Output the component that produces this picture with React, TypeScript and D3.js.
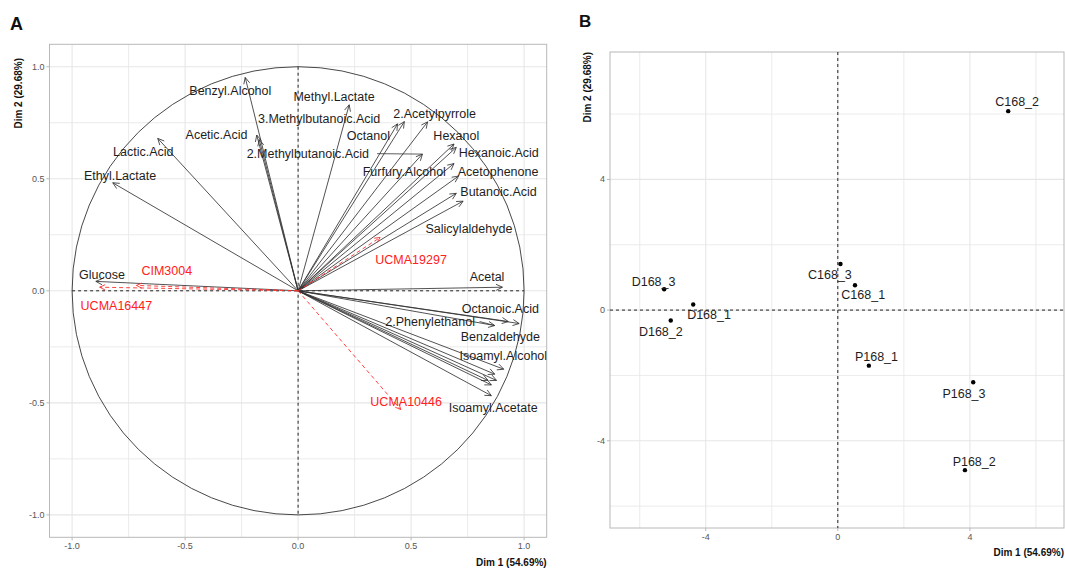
import * as d3 from "d3";

// ---- panel A: variables factor map ----
const varNames = [
  "Ethyl.Lactate", "Lactic.Acid", "Benzyl.Alcohol", "Acetic.Acid", "3.Methylbutanoic.Acid",
  "Methyl.Lactate", "Octanol", "2.Acetylpyrrole", "", "2.Methylbutanoic.Acid",
  "Hexanol", "Hexanoic.Acid", "Furfury.Alcohol", "Acetophenone", "Butanoic.Acid",
  "Salicylaldehyde", "Glucose", "Acetal", "Octanoic.Acid", "Benzaldehyde",
  "2.Phenylethanol", "Isoamyl.Alcohol", "", "", "", "", "Isoamyl.Acetate",
];
const varDim1 = [
  -0.82, -0.621, -0.234, -0.183, -0.172,
  0.226, 0.44, 0.47, 0.573, 0.55,
  0.69, 0.70, 0.69, 0.71, 0.70,
  0.73, -0.895, 0.904, 0.93, 0.978,
  0.87, 0.91, 0.87, 0.878, 0.84, 0.855, 0.855,
];
const varDim2 = [
  0.482, 0.68, 0.952, 0.695, 0.675,
  0.83, 0.745, 0.755, 0.754, 0.61,
  0.655, 0.64, 0.568, 0.512, 0.435,
  0.40, 0.042, 0.016, -0.137, -0.146,
  -0.155, -0.35, -0.372, -0.40, -0.40, -0.42, -0.468,
];
// label anchors (repelled positions, in dimension units)
const varLabX = [
  -0.788, -0.685, -0.30, -0.361, 0.093,
  0.159, 0.311, 0.604, NaN, 0.043,
  0.70, 0.888, 0.47, 0.885, 0.887,
  0.756, -0.868, 0.836, 0.895, 0.895,
  0.584, 0.908, NaN, NaN, NaN, NaN, 0.863,
];
const varLabY = [
  0.513, 0.621, 0.893, 0.698, 0.769,
  0.865, 0.693, 0.789, NaN, 0.612,
  0.693, 0.615, 0.531, 0.531, 0.442,
  0.278, 0.071, 0.0625, -0.077, -0.204,
  -0.137, -0.288, NaN, NaN, NaN, NaN, -0.523,
];
const segmentLabels = ["2.Methylbutanoic.Acid", "2.Phenylethanol"];

const supNames = ["UCMA19297", "UCMA10446", "CIM3004", "UCMA16447"];
const supDim1 = [0.363, 0.454, -0.715, -0.878];
const supDim2 = [0.238, -0.53, 0.024, 0.016];
const supLabX = [0.50, 0.478, -0.581, -0.804];
const supLabY = [0.14, -0.493, 0.092, -0.067];

const ticksA = [-1.0, -0.5, 0.0, 0.5, 1.0];
const minorA = [-0.75, -0.25, 0.25, 0.75];

// ---- panel B: individuals factor map ----
const indNames = ["C168_2", "C168_3", "C168_1", "D168_3", "D168_1", "D168_2", "P168_1", "P168_3", "P168_2"];
const indDim1 = [5.16, 0.08, 0.52, -5.26, -4.38, -5.06, 0.94, 4.10, 3.85];
const indDim2 = [6.09, 1.41, 0.76, 0.64, 0.17, -0.32, -1.70, -2.21, -4.90];
const indLabX = [5.43, -0.24, 0.77, -5.58, -3.90, -5.36, 1.17, 3.82, 4.13];
const indLabY = [6.39, 1.09, 0.47, 0.89, -0.13, -0.64, -1.43, -2.55, -4.64];

const ticksB = [-4, 0, 4];
const minorB = [-6, -2, 2, 6];

const FONT = "'Liberation Sans', Arial, sans-serif";
const GRID = "#e6e6e6";
const BORDER = "#b8b8b8";
const TICKTXT = "#555";

function arrowHead(x1: number, y1: number, x2: number, y2: number, len: number) {
  const a = Math.atan2(y2 - y1, x2 - x1);
  const s = Math.PI / 7;
  const p1 = [x2 - len * Math.cos(a - s), y2 - len * Math.sin(a - s)];
  const p2 = [x2 - len * Math.cos(a + s), y2 - len * Math.sin(a + s)];
  return `M${p1[0]},${p1[1]}L${x2},${y2}L${p2[0]},${p2[1]}`;
}

function PanelA() {
  const x = d3.scaleLinear().domain([-1.1, 1.1]).range([49.5, 546.7]);
  const y = d3.scaleLinear().domain([-1.1, 1.1]).range([537.3, 44.3]);
  const [x0, x1] = x.range();
  const [y1, y0] = y.range();
  const cx = x(0), cy = y(0);
  const r = x(1) - x(0);
  const ry = y(0) - y(1);
  return (
    <g>
      <defs>
        <clipPath id="clipA">
          <rect x={x0} y={y0} width={x1 - x0} height={y1 - y0} />
        </clipPath>
      </defs>
      {minorA.map((t) => (
        <g key={"m" + t}>
          <line x1={x(t)} x2={x(t)} y1={y0} y2={y1} stroke={GRID} strokeWidth={0.8} />
          <line x1={x0} x2={x1} y1={y(t)} y2={y(t)} stroke={GRID} strokeWidth={0.8} />
        </g>
      ))}
      {ticksA.map((t) => (
        <g key={"g" + t}>
          <line x1={x(t)} x2={x(t)} y1={y0} y2={y1} stroke={GRID} strokeWidth={1.1} />
          <line x1={x0} x2={x1} y1={y(t)} y2={y(t)} stroke={GRID} strokeWidth={1.1} />
          <line x1={x(t)} x2={x(t)} y1={y1} y2={y1 + 3} stroke={BORDER} />
          <line x1={x0 - 3} x2={x0} y1={y(t)} y2={y(t)} stroke={BORDER} />
          <text x={x(t)} y={y1 + 12} textAnchor="middle" fontSize={9} fill={TICKTXT} fontFamily={FONT}>
            {t.toFixed(1)}
          </text>
          <text x={x0 - 5} y={y(t) + 3} textAnchor="end" fontSize={9} fill={TICKTXT} fontFamily={FONT}>
            {t.toFixed(1)}
          </text>
        </g>
      ))}
      <rect x={x0} y={y0} width={x1 - x0} height={y1 - y0} fill="none" stroke={BORDER} strokeWidth={1} />
      <g clipPath="url(#clipA)">
        <ellipse cx={cx} cy={cy} rx={r} ry={ry} fill="none" stroke="#333" strokeWidth={0.9} />
        <line x1={x(-1)} x2={x(1)} y1={cy} y2={cy} stroke="#222" strokeWidth={1} strokeDasharray="3,3" />
        <line x1={cx} x2={cx} y1={y(1)} y2={y(-1)} stroke="#222" strokeWidth={1} strokeDasharray="3,3" />
        {varNames.map((n, i) => {
          const tx = x(varDim1[i]), ty = y(varDim2[i]);
          return (
            <g key={"v" + i}>
              <line x1={cx} y1={cy} x2={tx} y2={ty} stroke="#333" strokeWidth={0.85} />
              <path d={arrowHead(cx, cy, tx, ty, 7)} fill="none" stroke="#333" strokeWidth={0.85} />
            </g>
          );
        })}
        {supNames.map((n, i) => {
          const tx = x(supDim1[i]), ty = y(supDim2[i]);
          return (
            <g key={"s" + i}>
              <line x1={cx} y1={cy} x2={tx} y2={ty} stroke="#ff3030" strokeWidth={0.9} strokeDasharray="4,3" />
              <path d={arrowHead(cx, cy, tx, ty, 6)} fill="none" stroke="#ff3030" strokeWidth={0.9} />
            </g>
          );
        })}
        {varNames.map((n, i) => {
          if (!n || isNaN(varLabX[i])) return null;
          const lx = x(varLabX[i]), ly = y(varLabY[i]);
          const w = n.length * 6.6;
          return (
            <g key={"l" + i}>
              {segmentLabels.includes(n) && (
                <line x1={lx + w / 2} y1={ly} x2={x(varDim1[i])} y2={y(varDim2[i])} stroke="#333" strokeWidth={0.8} />
              )}
              <text x={lx} y={ly} dy="0.36em" textAnchor="middle" fontSize={12.5} fill="#1e1e1e" fontFamily={FONT}>
                {n}
              </text>
            </g>
          );
        })}
        {supNames.map((n, i) => (
          <text key={"sl" + i} x={x(supLabX[i])} y={y(supLabY[i])} dy="0.36em" textAnchor="middle" fontSize={12.5} fill="#ff2020" fontFamily={FONT}>
            {n}
          </text>
        ))}
      </g>
      <text x={x1} y={566} textAnchor="end" fontSize={10} fontWeight="bold" fill="#111" fontFamily={FONT}>
        Dim 1 (54.69%)
      </text>
      <text transform={`translate(22,58) rotate(-90)`} textAnchor="end" fontSize={10} fontWeight="bold" fill="#111" fontFamily={FONT}>
        Dim 2 (29.68%)
      </text>
      <text x={10} y={30} fontSize={18} fontWeight="bold" fill="#111" fontFamily={FONT}>A</text>
    </g>
  );
}

function PanelB() {
  const x = d3.scaleLinear().domain([-6.9, 6.85]).range([610, 1064]);
  const y = d3.scaleLinear().domain([-6.67, 7.9]).range([528, 52]);
  const [x0, x1] = x.range();
  const [y1, y0] = y.range();
  return (
    <g>
      {minorB.map((t) => (
        <g key={"m" + t}>
          <line x1={x(t)} x2={x(t)} y1={y0} y2={y1} stroke={GRID} strokeWidth={0.8} />
          <line x1={x0} x2={x1} y1={y(t)} y2={y(t)} stroke={GRID} strokeWidth={0.8} />
        </g>
      ))}
      {ticksB.map((t) => (
        <g key={"g" + t}>
          <line x1={x(t)} x2={x(t)} y1={y0} y2={y1} stroke={GRID} strokeWidth={1.1} />
          <line x1={x0} x2={x1} y1={y(t)} y2={y(t)} stroke={GRID} strokeWidth={1.1} />
          <line x1={x(t)} x2={x(t)} y1={y1} y2={y1 + 3} stroke={BORDER} />
          <line x1={x0 - 3} x2={x0} y1={y(t)} y2={y(t)} stroke={BORDER} />
          <text x={x(t)} y={y1 + 12} textAnchor="middle" fontSize={9} fill={TICKTXT} fontFamily={FONT}>
            {t}
          </text>
          <text x={x0 - 5} y={y(t) + 3} textAnchor="end" fontSize={9} fill={TICKTXT} fontFamily={FONT}>
            {t}
          </text>
        </g>
      ))}
      <rect x={x0} y={y0} width={x1 - x0} height={y1 - y0} fill="none" stroke={BORDER} strokeWidth={1} />
      <line x1={x0} x2={x1} y1={y(0)} y2={y(0)} stroke="#222" strokeWidth={1} strokeDasharray="3,3" />
      <line x1={x(0)} x2={x(0)} y1={y0} y2={y1} stroke="#222" strokeWidth={1} strokeDasharray="3,3" />
      {indNames.map((n, i) => (
        <g key={"p" + i}>
          <circle cx={x(indDim1[i])} cy={y(indDim2[i])} r={2.2} fill="#000" />
          <text x={x(indLabX[i])} y={y(indLabY[i])} dy="0.36em" textAnchor="middle" fontSize={12.5} fill="#1e1e1e" fontFamily={FONT}>
            {n}
          </text>
        </g>
      ))}
      <text x={x1} y={556} textAnchor="end" fontSize={10} fontWeight="bold" fill="#111" fontFamily={FONT}>
        Dim 1 (54.69%)
      </text>
      <text transform={`translate(591,52) rotate(-90)`} textAnchor="end" fontSize={10} fontWeight="bold" fill="#111" fontFamily={FONT}>
        Dim 2 (29.68%)
      </text>
      <text x={579} y={27} fontSize={17} fontWeight="bold" fill="#111" fontFamily={FONT}>B</text>
    </g>
  );
}

export default function App() {
  return (
    <svg
      width={1065}
      height={568}
      viewBox="0 0 1065 568"
      style={{ position: "absolute", left: 0, top: 0, background: "#fff" }}
    >
      <rect width={1065} height={568} fill="#fff" />
      <PanelA />
      <PanelB />
    </svg>
  );
}
